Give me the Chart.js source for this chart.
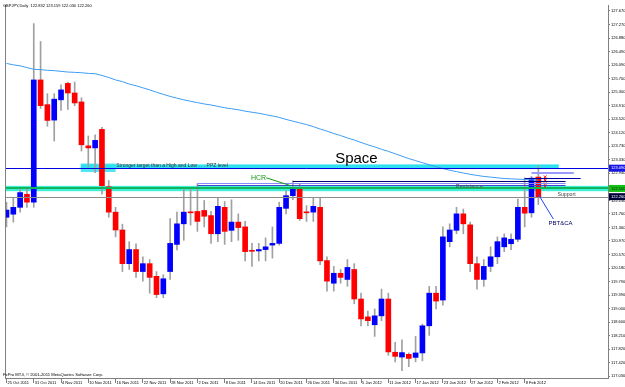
<!DOCTYPE html>
<html>
<head>
<meta charset="utf-8">
<script src="https://cdn.jsdelivr.net/npm/chart.js@4.4.0/dist/chart.umd.min.js"></script>
<style>
  html, body { margin: 0; padding: 0; background: #fff; }
  #chart { display: block; }
</style>
</head>
<body>
<canvas id="chart" width="625" height="387"></canvas>
<script>
// GBPJPY daily bars, 25 Oct 2011 - 10 Feb 2012 (bar index 0..78)
const dates = [
  '25 Oct 2011', '26 Oct 2011', '27 Oct 2011', '28 Oct 2011', '31 Oct 2011',
  '1 Nov 2011', '2 Nov 2011', '3 Nov 2011', '4 Nov 2011', '7 Nov 2011', '8 Nov 2011', '9 Nov 2011',
  '10 Nov 2011', '11 Nov 2011', '14 Nov 2011', '15 Nov 2011', '16 Nov 2011', '17 Nov 2011', '18 Nov 2011',
  '21 Nov 2011', '22 Nov 2011', '23 Nov 2011', '24 Nov 2011', '25 Nov 2011', '28 Nov 2011', '29 Nov 2011', '30 Nov 2011',
  '1 Dec 2011', '2 Dec 2011', '5 Dec 2011', '6 Dec 2011', '7 Dec 2011', '8 Dec 2011', '9 Dec 2011',
  '12 Dec 2011', '13 Dec 2011', '14 Dec 2011', '15 Dec 2011', '16 Dec 2011', '19 Dec 2011', '20 Dec 2011',
  '21 Dec 2011', '22 Dec 2011', '23 Dec 2011', '26 Dec 2011', '27 Dec 2011', '28 Dec 2011', '29 Dec 2011', '30 Dec 2011',
  '2 Jan 2012', '3 Jan 2012', '4 Jan 2012', '5 Jan 2012', '6 Jan 2012', '9 Jan 2012', '10 Jan 2012',
  '11 Jan 2012', '12 Jan 2012', '13 Jan 2012', '16 Jan 2012', '17 Jan 2012', '18 Jan 2012', '19 Jan 2012',
  '20 Jan 2012', '23 Jan 2012', '24 Jan 2012', '25 Jan 2012', '26 Jan 2012', '27 Jan 2012', '30 Jan 2012', '31 Jan 2012',
  '1 Feb 2012', '2 Feb 2012', '3 Feb 2012', '6 Feb 2012', '7 Feb 2012', '8 Feb 2012', '9 Feb 2012', '10 Feb 2012'
];

const opens = [
  121.66, 121.75, 121.95, 122.33, 122.10, 125.66, 124.94, 124.49, 125.08, 125.56,
  125.28, 125.02, 123.74, 123.68, 124.22, 122.55, 121.81, 121.29, 120.31, 120.72,
  120.08, 120.31, 119.94, 119.43, 120.08, 120.87, 121.47, 121.81, 121.83, 121.86,
  121.71, 121.18, 121.95, 121.28, 121.52, 121.38, 120.69, 120.68, 120.72, 120.85,
  120.90, 121.92, 122.29, 122.50, 121.81, 121.81, 121.95, 120.40, 119.74, 120.03,
  119.85, 120.14, 119.28, 118.76, 118.53, 118.79, 119.28, 117.73, 117.59, 117.67,
  117.58, 117.71, 118.50, 119.45, 119.25, 120.95, 121.28, 121.76, 121.44, 120.31,
  119.85, 120.23, 120.51, 120.80, 120.89, 121.02, 121.95, 121.79, 122.832
];
const highs = [
  122.10, 122.24, 122.53, 122.50, 127.30, 126.78, 125.26, 125.26, 125.52, 125.60,
  125.60, 125.14, 124.03, 124.06, 124.28, 122.73, 121.95, 121.46, 120.95, 120.89,
  120.51, 120.43, 120.08, 119.99, 121.62, 121.81, 122.50, 122.50, 122.64, 122.15,
  121.83, 122.21, 122.12, 122.17, 121.76, 121.54, 120.90, 120.90, 121.06, 121.38,
  122.10, 122.43, 122.72, 122.62, 122.00, 122.24, 122.24, 120.51, 120.23, 120.14,
  120.43, 120.31, 119.45, 118.93, 118.99, 119.57, 119.45, 118.02, 118.09, 117.71,
  118.19, 118.55, 119.65, 119.65, 121.38, 121.47, 121.95, 121.90, 121.52, 120.51,
  120.43, 120.80, 121.09, 121.18, 121.18, 122.19, 122.81, 122.85, 123.159
];
const lows = [
  121.38, 121.52, 121.81, 121.95, 121.95, 124.83, 124.31, 123.88, 124.77, 124.80,
  124.91, 123.59, 123.13, 122.96, 122.33, 121.66, 121.09, 120.08, 120.14, 119.91,
  119.80, 119.45, 119.32, 119.32, 119.85, 120.71, 120.99, 121.43, 121.25, 121.38,
  120.90, 120.95, 120.87, 120.95, 120.99, 120.39, 120.23, 120.39, 120.39, 120.47,
  120.85, 121.76, 122.17, 121.57, 121.54, 121.54, 120.28, 119.51, 119.51, 119.74,
  119.65, 119.14, 118.50, 118.50, 118.19, 118.65, 117.64, 117.45, 117.19, 117.31,
  117.45, 117.48, 118.22, 118.99, 119.10, 120.80, 121.18, 121.18, 120.08, 119.57,
  119.65, 120.08, 120.31, 120.66, 120.72, 120.95, 121.38, 121.66, 122.030
];
const closes = [
  121.87, 121.95, 122.38, 122.10, 125.66, 124.91, 124.48, 125.10, 125.37, 125.28,
  124.99, 123.77, 123.68, 123.90, 122.58, 121.81, 121.29, 120.31, 120.72, 120.08,
  120.31, 119.91, 119.41, 119.87, 120.90, 121.47, 121.81, 121.79, 121.54, 121.69,
  121.18, 121.98, 121.25, 121.52, 121.36, 120.66, 120.67, 120.72, 120.80, 120.90,
  121.95, 122.29, 122.50, 121.62, 121.79, 121.98, 120.39, 119.80, 120.03, 119.91,
  120.20, 119.28, 118.70, 118.65, 118.79, 119.28, 117.74, 117.61, 117.72, 117.55,
  117.71, 118.50, 119.45, 119.22, 121.09, 121.29, 121.76, 121.47, 120.31, 119.85,
  120.23, 120.51, 120.95, 121.06, 121.02, 121.95, 121.78, 122.80, 122.260
];

// moving average (blue curve)
const movingAvg = [
  126.14, 126.10, 126.07, 126.02, 125.97, 125.96, 125.94, 125.93, 125.91, 125.89,
  125.88, 125.87, 125.85, 125.84, 125.79, 125.73, 125.66, 125.61, 125.54, 125.49,
  125.43, 125.37, 125.30, 125.24, 125.18, 125.13, 125.08, 125.04, 125.00, 124.96,
  124.93, 124.89, 124.85, 124.82, 124.79, 124.75, 124.72, 124.69, 124.65, 124.61,
  124.57, 124.51, 124.46, 124.41, 124.36, 124.30, 124.23, 124.17, 124.10, 124.04,
  123.97, 123.91, 123.84, 123.77, 123.71, 123.64, 123.58, 123.51, 123.44, 123.37,
  123.31, 123.25, 123.19, 123.13, 123.08, 123.03, 122.99, 122.95, 122.91, 122.88,
  122.85, 122.83, 122.81, 122.79, 122.78, 122.77, 122.76, 122.75, 122.74
];

const tickBars = [0, 4, 8, 12, 16, 20, 24, 28, 32, 36, 40, 44, 48, 52, 56, 60, 64, 68, 72, 76];
const priceTicks = [
  127.670, 127.270, 126.880, 126.490, 126.090, 125.700, 125.300, 124.910, 124.520, 124.120,
  123.730, 123.330, 122.940, 122.550, 122.150, 121.760, 121.360, 120.970, 120.570, 120.180,
  119.790, 119.390, 119.000, 118.600, 118.210, 117.820, 117.420, 117.030
];

// drawn levels and marks (price, bar index)
const ppzBand = [123.08, 123.20];
const noteBox = [10.9, 16.0, 122.98, 123.225];
const blueLevel = 123.09;
const supportBand = [122.42, 122.575];
const greenLevel = 122.50;
const bidLevel = closes[closes.length - 1];
const resistanceLines = [122.72, 122.66, 122.61];
const resistanceFrom = [42, 28, 28];
const crossMarks = [122.84, 122.74, 122.64, 122.54];
const crossBar = 79;

const font = (size) => `${size}px "Liberation Sans", Arial, sans-serif`;

function hLine(ctx, x, y, k0, k1, price, color, width) {
  const py = Math.round(y.getPixelForValue(price)) + (width % 2 ? 0.5 : 0);
  ctx.strokeStyle = color;
  ctx.lineWidth = width;
  ctx.beginPath();
  ctx.moveTo(x.getPixelForValue(k0), py);
  ctx.lineTo(x.getPixelForValue(k1), py);
  ctx.stroke();
}

function zone(ctx, x, y, k0, k1, p0, p1, color) {
  const x0 = x.getPixelForValue(k0);
  const y0 = y.getPixelForValue(p1);
  ctx.fillStyle = color;
  ctx.fillRect(x0, y0, x.getPixelForValue(k1) - x0, y.getPixelForValue(p0) - y0);
}

function segment(ctx, x, y, k0, p0, k1, p1, color) {
  ctx.strokeStyle = color;
  ctx.lineWidth = 1;
  ctx.beginPath();
  ctx.moveTo(x.getPixelForValue(k0), y.getPixelForValue(p0));
  ctx.lineTo(x.getPixelForValue(k1), y.getPixelForValue(p1));
  ctx.stroke();
}

function label(ctx, x, y, k, price, text, size, color) {
  ctx.font = font(size);
  ctx.fillStyle = color;
  ctx.textAlign = 'left';
  ctx.textBaseline = 'alphabetic';
  ctx.fillText(text, x.getPixelForValue(k), y.getPixelForValue(price));
}

const annotations = {
  id: 'annotations',
  beforeDatasetsDraw(chart) {
    const { ctx, chartArea: a, scales: { x, y } } = chart;
    ctx.save();
    ctx.beginPath();
    ctx.rect(a.left, a.top, a.width, a.height);
    ctx.clip();
    zone(ctx, x, y, noteBox[0], noteBox[1], noteBox[2], noteBox[3], '#4ee6f2');
    zone(ctx, x, y, 10.9, 81, ppzBand[0], ppzBand[1], '#2fe0f0');
    zone(ctx, x, y, -1, 90, supportBand[0], supportBand[1], '#3ef0d8');
    ctx.restore();
  },
  afterDatasetsDraw(chart) {
    const { ctx, chartArea: a, scales: { x, y } } = chart;
    ctx.save();
    ctx.beginPath();
    ctx.rect(a.left, a.top, a.width, a.height);
    ctx.clip();

    hLine(ctx, x, y, -1, 90, blueLevel, '#0000e0', 1);
    hLine(ctx, x, y, -1, 90, greenLevel, '#12b45a', 2);
    hLine(ctx, x, y, -1, 90, bidLevel, '#8c8c8c', 1);
    hLine(ctx, x, y, resistanceFrom[0], 82, resistanceLines[0], '#00007a', 1);
    hLine(ctx, x, y, resistanceFrom[1], 82, resistanceLines[1], '#8888ff', 1);
    hLine(ctx, x, y, resistanceFrom[2], 82, resistanceLines[2], '#4444c8', 1);
    hLine(ctx, x, y, 76, 84.2, 122.81, '#0000a0', 1);
    hLine(ctx, x, y, 77, 83.2, 122.94, '#9a9aff', 2);

    segment(ctx, x, y, 38.1, 122.81, 41.7, 122.58, '#139a13');
    segment(ctx, x, y, 78.0, 122.33, 80.2, 121.61, '#2040ff');

    label(ctx, x, y, 16.1, 123.13, 'Stronger target than a High and Low . . . PPZ level', 5, '#333');
    label(ctx, x, y, 48.2, 123.245, 'Space', 15, '#000');
    label(ctx, x, y, 35.85, 122.76, 'HCR', 7, '#139a13');
    label(ctx, x, y, 65.9, 122.51, 'Resistance', 5.5, '#555');
    label(ctx, x, y, 80.8, 122.27, 'Support', 5.2, '#444');
    label(ctx, x, y, 79.5, 121.435, 'PBT&CA', 6, '#000066');
    ctx.restore();
  },
  afterDraw(chart) {
    const { ctx, chartArea: a, scales: { y } } = chart;
    ctx.save();
    // chart frame on the left
    ctx.strokeStyle = '#808080';
    ctx.lineWidth = 1;
    ctx.beginPath();
    ctx.moveTo(a.left + 0.5, a.top);
    ctx.lineTo(a.left + 0.5, a.bottom);
    ctx.stroke();

    // price tags on the axis
    const tags = [
      [blueLevel, '#1414e6', '#ffffff'],
      [greenLevel, '#14c014', '#002200'],
      [bidLevel, '#000038', '#ffffff']
    ];
    ctx.font = font(4);
    ctx.textBaseline = 'middle';
    ctx.textAlign = 'left';
    tags.forEach(([price, bg, fg]) => {
      const py = y.getPixelForValue(price);
      ctx.fillStyle = bg;
      ctx.fillRect(a.right + 1, py - 3.5, 17, 7);
      ctx.fillStyle = fg;
      ctx.fillText(price.toFixed(3), a.right + 3, py);
    });

    ctx.fillStyle = '#000';
    ctx.textBaseline = 'alphabetic';
    ctx.fillText('GBPJPY,Daily  122.832 123.159 122.030 122.260', 3, 7);
    ctx.font = font(4.2);
    ctx.fillText('FxPro MT4, \u00a9 2001-2011 MetaQuotes Software Corp.', 3, 376);
    ctx.restore();
  }
};

const bodies = opens.map((o, i) => ({ x: i, y: [o, closes[i]] }));
const wicks = lows.map((l, i) => ({ x: i, y: [l, highs[i]] }));
const bodyColors = opens.map((o, i) => (closes[i] >= o ? '#0000ff' : '#ff0000'));

new Chart(document.getElementById('chart'), {
  type: 'bar',
  data: {
    datasets: [
      {
        type: 'scatter',
        data: crossMarks.map((p) => ({ x: crossBar, y: p })),
        pointStyle: 'crossRot',
        pointRadius: 1.8,
        borderColor: '#ff0000',
        pointBorderColor: '#ff0000',
        pointBorderWidth: 1,
        order: 0,
      },
      {
        type: 'line',
        data: movingAvg.map((v, i) => ({ x: i, y: v })),
        borderColor: '#3d9df5',
        borderWidth: 1,
        pointRadius: 0,
        tension: 0,
        order: 1,
      },
      {
        data: bodies,
        backgroundColor: bodyColors,
        borderWidth: 0,
        barThickness: 5,
        minBarLength: 1,
        grouped: false,
        order: 2,
      },
      {
        data: wicks,
        backgroundColor: '#a0a0a0',
        borderWidth: 0,
        barThickness: 1,
        grouped: false,
        order: 3,
      },
    ],
  },
  options: {
    responsive: false,
    animation: false,
    devicePixelRatio: 1,
    layout: { padding: 0 },
    plugins: {
      legend: { display: false },
      tooltip: { enabled: false },
    },
    scales: {
      x: {
        type: 'linear',
        min: -0.218,
        max: 88.218,
        offset: false,
        grid: { offset: false, drawOnChartArea: false, tickLength: 5, color: '#808080' },
        border: { color: '#808080' },
        afterBuildTicks: (axis) => { axis.ticks = tickBars.map((v) => ({ value: v })); },
        afterFit: (axis) => { axis.height = 9; },
        ticks: {
          autoSkip: false,
          maxRotation: 0,
          align: 'start',
          labelOffset: 1,
          padding: -3,
          color: '#000',
          font: { family: '"Liberation Sans", Arial, sans-serif', size: 4 },
          callback: (v) => dates[v],
        },
      },
      y: {
        type: 'linear',
        position: 'right',
        min: 116.98,
        max: 127.842,
        beginAtZero: false,
        grid: { drawOnChartArea: false, tickLength: 2, color: '#808080' },
        border: { color: '#808080' },
        afterBuildTicks: (axis) => { axis.ticks = priceTicks.map((v) => ({ value: v })); },
        afterFit: (axis) => { axis.width = 17; },
        ticks: {
          padding: 1,
          color: '#000',
          font: { family: '"Liberation Sans", Arial, sans-serif', size: 4 },
          callback: (v) => v.toFixed(3),
        },
      },
    },
  },
  plugins: [annotations],
});
</script>
</body>
</html>
